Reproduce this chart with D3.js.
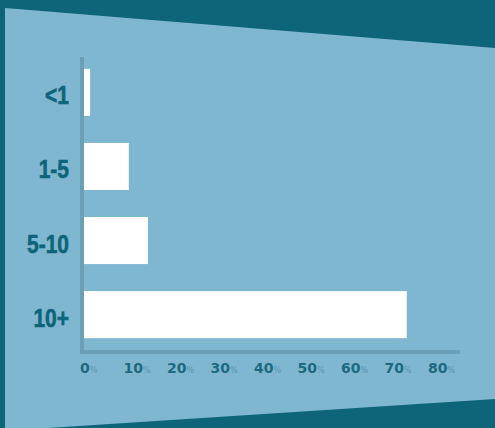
<!DOCTYPE html>
<html>
<head>
<meta charset="utf-8">
<script src="https://cdn.jsdelivr.net/npm/d3@7"></script>
<style>
  body { margin: 0; background: #0e6479; }
  svg { display: block; }
</style>
</head>
<body>
<script>
// data
var categories = ["<1", "1-5", "5-10", "10+"];
var values = [1.4, 10.3, 14.7, 74.2];
var ticks = [0, 10, 20, 30, 40, 50, 60, 70, 80];

var width = 495, height = 428;

var svg = d3.select("body").append("svg")
  .attr("width", width)
  .attr("height", height);

// dark backdrop + slanted light panel
svg.append("rect").attr("width", width).attr("height", height).attr("fill", "#0e6479");
svg.append("path")
  .attr("d", "M5,8 L495,48 L495,399 L48,428 L5,428 Z")
  .attr("fill", "#80b7d0");

var x = d3.scaleLinear().domain([0, 80]).range([84, 432]);
var y = d3.scaleBand().domain(categories).range([57, 350]).paddingInner(0.365).paddingOuter(0.16);

var g = svg.append("g");

// bars
g.selectAll("rect.bar")
  .data(values)
  .enter()
  .append("rect")
  .attr("class", "bar")
  .attr("x", x(0))
  .attr("y", (d, i) => y(categories[i]))
  .attr("width", d => x(d) - x(0))
  .attr("height", y.bandwidth())
  .attr("fill", "#ffffff");

// axis lines
g.append("rect").attr("x", 80).attr("y", 57).attr("width", 4).attr("height", 297).attr("fill", "#6b9fb5");
g.append("rect").attr("x", 80).attr("y", 350).attr("width", 380).attr("height", 4).attr("fill", "#6b9fb5");

// category labels (squeezed to look condensed)
g.selectAll("text.cat")
  .data(categories)
  .enter()
  .append("text")
  .attr("class", "cat")
  .attr("transform", d => "translate(69," + (y(d) + y.bandwidth() / 2 + 12) + ") scale(0.84,1)")
  .attr("text-anchor", "end")
  .attr("font-family", "'Liberation Sans', Arial, sans-serif")
  .attr("font-weight", "bold")
  .attr("font-size", 25)
  .attr("stroke", "#0e6479")
  .attr("stroke-width", 0.6)
  .attr("fill", "#0e6479")
  .text(d => d);

// tick labels
var tl = g.selectAll("text.tick")
  .data(ticks)
  .enter()
  .append("text")
  .attr("class", "tick")
  .attr("x", d => x(d) - 4)
  .attr("y", 373)
  .attr("font-family", "'DejaVu Sans', sans-serif")
  .attr("font-weight", "bold")
  .attr("font-size", 14)
  .attr("fill", "#1d6a80");
tl.append("tspan").text(d => d);
tl.append("tspan")
  .attr("font-size", 8)
  .attr("font-weight", "normal")
  .attr("fill", "#5a95ad")
  .text("%");
</script>
</body>
</html>
